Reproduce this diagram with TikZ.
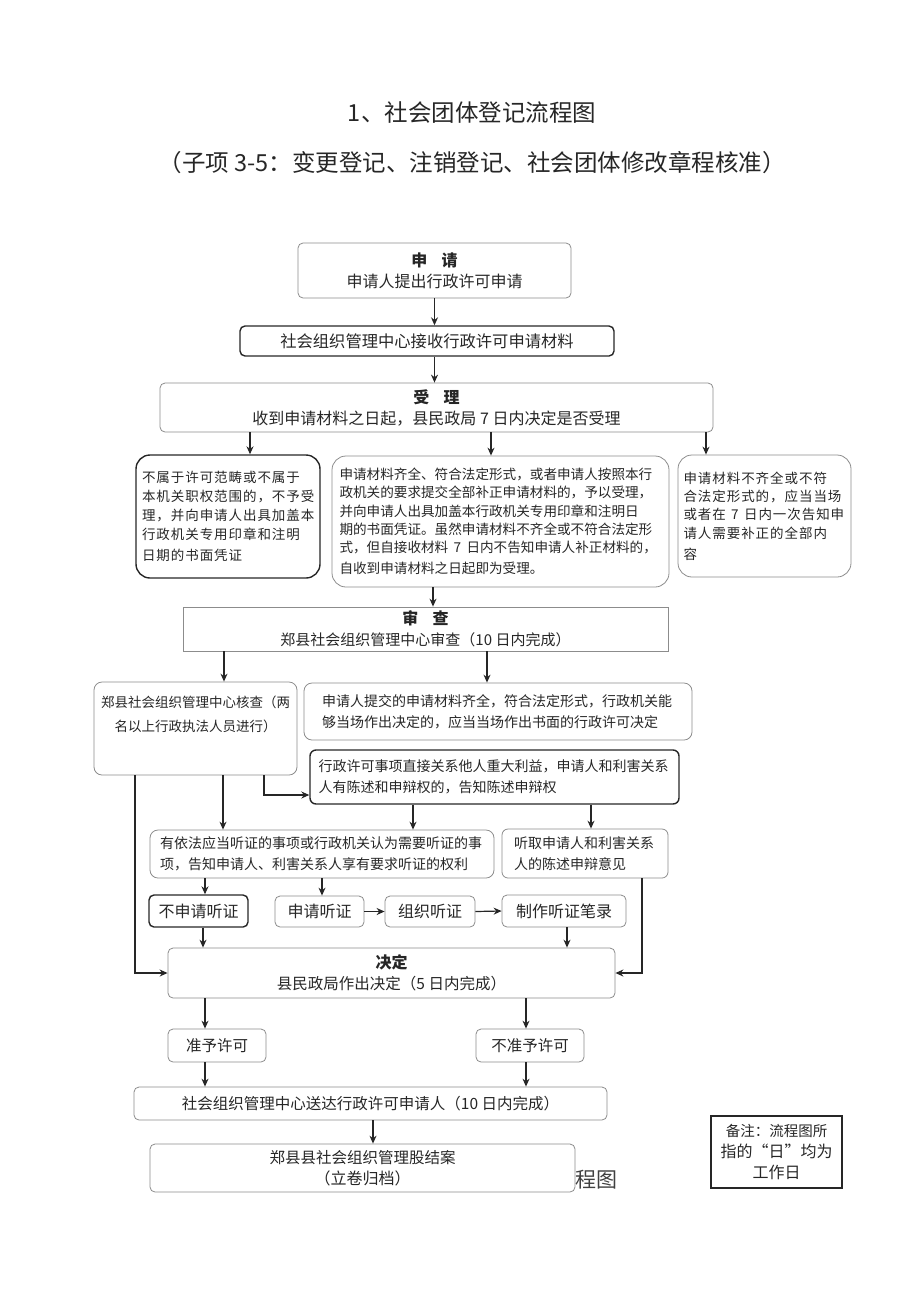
\documentclass[tikz,border=0pt]{standalone}
\usepackage{fontspec}
\setmainfont{Noto Sans CJK SC}
\newfontfamily\widecjk[LetterSpace=7]{Noto Sans CJK SC}
\usetikzlibrary{arrows.meta}

\newcommand\fs[2]{\fontsize{#1}{#2}\selectfont}

\tikzset{
  procbox/.style = {shape=rectangle, rounded corners=5pt,
                    draw=black!45, line width=0.8pt,
                    inner sep=0pt, align=center, text=black!85},
  keybox/.style  = {procbox, draw=black!85, line width=1.4pt},
  bigbox/.style  = {procbox, rounded corners=14pt},
  notebox/.style = {procbox, rounded corners=0pt, draw=black!85, line width=1.4pt},
  flow/.style    = {-{Stealth[length=8pt,width=7pt]}, line width=1.2pt, draw=black!85}
}

\begin{document}
\begin{tikzpicture}
[
x=1pt, y=-1pt,
    every node/.style = {font=\fs{16}{21}}
  ]
\useasboundingbox (0,0) rectangle (920,1301);

% titles
\node[text=black!85] (title) at (472,113) {\fs{23.5}{28}1、社会团体登记流程图};
\node[text=black!85] (subtitle) at (472,163) {\fs{23.5}{28}（子项 3-5：变更登记、注销登记、社会团体修改章程核准）};

% application and acceptance
\node[procbox, minimum width=273pt, minimum height=55pt] (apply) at (434.5,270.5)
  {\textbf{申\hspace{0.9em}请}\\申请人提出行政许可申请};
\node[keybox, minimum width=374pt, minimum height=30pt] (receive) at (427,341)
  {\fs{16.3}{21}社会组织管理中心接收行政许可申请材料};
\node[procbox, minimum width=553pt, minimum height=49pt] (accept) at (436.5,407.5)
  {\fs{16}{20}\textbf{受\hspace{0.9em}理}\\收到申请材料之日起，县民政局~7~日内决定是否受理};

% three outcomes of acceptance
\node[bigbox, keybox, rounded corners=14pt, minimum width=184pt, minimum height=123pt,
      text width=172pt, align=left] (reject) at (228,516.5)
  {\widecjk\fs{13.5}{19.2}不属于许可范畴或不属于\\本机关职权范围的，不予受\\理，并向申请人出具加盖本\\行政机关专用印章和注明\\日期的书面凭证};
\node[bigbox, minimum width=337pt, minimum height=131pt,
      text width=322pt, align=left] (ok) at (500.5,521.5)
  {\fs{13.6}{18.4}申请材料齐全、符合法定形式，或者申请人按照本行\\政机关的要求提交全部补正申请材料的，予以受理，\\并向申请人出具加盖本行政机关专用印章和注明日\\期的书面凭证。虽然申请材料不齐全或不符合法定形\\式，但自接收材料~7~日内不告知申请人补正材料的，\\自收到申请材料之日起即为受理。};
\node[bigbox, minimum width=173pt, minimum height=122pt,
      text width=162pt, align=left] (amend) at (764.5,516)
  {\widecjk\fs{13.5}{18.3}申请材料不齐全或不符\\合法定形式的，应当当场\\或者在~7~日内一次告知申\\请人需要补正的全部内\\容};

% review
\node[procbox, rounded corners=0pt, minimum width=485pt, minimum height=44pt] (review) at (425.5,629)
  {\textbf{审\hspace{0.9em}查}\\\fs{15}{21}郑县社会组织管理中心审查（10~日内完成）};
\node[procbox, rounded corners=8pt, minimum width=203pt, minimum height=93pt] (check) at (195.5,728.5)
  {\parbox[c][66pt][t]{200pt}{\centering\fs{13.5}{24}郑县社会组织管理中心核查（两\\名以上行政执法人员进行）}};
\node[procbox, rounded corners=8pt, minimum width=388pt, minimum height=57pt,
      text width=352pt, align=left] (spot) at (498,711.5)
  {\fs{14}{22}申请人提交的申请材料齐全，符合法定形式，行政机关能\\够当场作出决定的，应当当场作出书面的行政许可决定};
\node[keybox, rounded corners=6pt, minimum width=369pt, minimum height=54pt,
      text width=352pt, align=left] (notify) at (494.5,777)
  {\fs{14}{23}行政许可事项直接关系他人重大利益，申请人和利害关系\\人有陈述和申辩权的，告知陈述申辩权};

% hearing
\node[procbox, rounded corners=8pt, minimum width=344pt, minimum height=48pt,
      text width=324pt, align=left] (hearing) at (322,854)
  {\fs{14}{19}有依法应当听证的事项或行政机关认为需要听证的事\\项，告知申请人、利害关系人享有要求听证的权利};
\node[procbox, rounded corners=6pt, minimum width=166pt, minimum height=49pt,
      text width=142pt, align=left] (plead) at (585,853.5)
  {\fs{14}{19}听取申请人和利害关系\\人的陈述申辩意见};
\node[keybox, minimum width=99pt, minimum height=32pt] (nohear) at (198.5,911) {不申请听证};
\node[procbox, minimum width=89pt, minimum height=31pt] (askhear) at (319.5,911.5) {申请听证};
\node[procbox, minimum width=90pt, minimum height=31pt] (holdhear) at (430,911.5) {组织听证};
\node[procbox, minimum width=124pt, minimum height=32pt] (record) at (564,911) {制作听证笔录};

% decision and delivery
\node[procbox, minimum width=447pt, minimum height=50pt] (decide) at (391.5,973)
  {\fs{16}{19}\textbf{决定}\\\fs{15.5}{19}县民政局作出决定（5~日内完成）};
\node[procbox, minimum width=98pt, minimum height=33pt] (grant) at (217,1045.5) {\fs{15.5}{19}准予许可};
\node[procbox, minimum width=108pt, minimum height=33pt] (deny) at (530,1045.5) {\fs{15.5}{19}不准予许可};
\node[procbox, minimum width=473pt, minimum height=33pt] (deliver) at (370.5,1103.5)
  {\fs{15.5}{19}社会组织管理中心送达行政许可申请人（10~日内完成）};
\node[procbox, minimum width=425pt, minimum height=48pt] (close) at (362.5,1168)
  {\fs{15.5}{21}郑县县社会组织管理股结案\\（立卷归档）};
\node[text=black!75] (stray) at (596,1180) {\fs{21}{24}程图};
\node[notebox, minimum width=131pt, minimum height=72pt] (note) at (776.5,1152)
  {\fs{14.5}{17.5}备注：流程图所\\指的“日”均为\\工作日};

% connectors
\draw[flow] (apply.south) -- (apply.south |- receive.north);
\draw[flow] (receive.south -| apply.south) -- (accept.north -| apply.south);
\draw[flow] (accept.south -| 250,0) -- (reject.north -| 250,0);
\draw[flow] (accept.south -| 491,0) -- (ok.north -| 491,0);
\draw[flow] (accept.south -| 706,0) -- (amend.north -| 706,0);
\draw[flow] (ok.south -| 433,0) -- (review.north -| 433,0);
\draw[flow] (review.south -| 224,0) -- (check.north -| 224,0);
\draw[flow] (review.south -| 487,0) -- (spot.north -| 487,0);
\draw[flow] (check.south -| 264,0) |- (notify.west |- 0,795);
\draw[flow] (check.south -| 223,0) -- (hearing.north -| 223,0);
\draw[flow] (check.south -| 135,0) |- (decide.west);
\draw[flow] (notify.south -| 413,0) -- (hearing.north -| 413,0);
\draw[flow] (notify.south -| 591,0) -- (plead.north -| 591,0);
\draw[flow] (hearing.south -| 205,0) -- (nohear.north -| 205,0);
\draw[flow] (hearing.south -| 322,0) -- (askhear.north -| 322,0);
\draw[flow] (askhear.east) -- (holdhear.west);
\draw[flow] (holdhear.east) -- (record.west);
\draw[flow] (nohear.south -| 203,0) -- (decide.north -| 203,0);
\draw[flow] (record.south -| 567,0) -- (decide.north -| 567,0);
\draw[flow] (plead.south -| 642,0) |- (decide.east);
\draw[flow] (decide.south -| 205,0) -- (grant.north -| 205,0);
\draw[flow] (decide.south -| 526,0) -- (deny.north -| 526,0);
\draw[flow] (grant.south -| 205,0) -- (deliver.north -| 205,0);
\draw[flow] (deny.south -| 526,0) -- (deliver.north -| 526,0);
\draw[flow] (deliver.south -| 373,0) -- (close.north -| 373,0);
\end{tikzpicture}
\end{document}
